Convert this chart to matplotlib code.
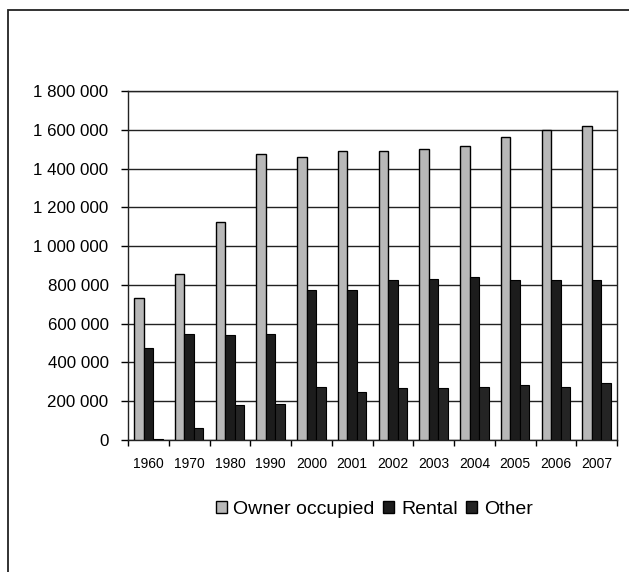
import matplotlib
matplotlib.use("Agg")
import matplotlib.pyplot as plt
import matplotlib.patches as mpatches
from matplotlib.ticker import FuncFormatter, FixedLocator
import numpy as np

plt.rcParams['font.family'] = ['Liberation Sans', 'DejaVu Sans']

years = ['1960', '1970', '1980', '1990', '2000', '2001', '2002', '2003',
         '2004', '2005', '2006', '2007']
owner = [731000, 857000, 1122000, 1473000, 1460000, 1489000, 1489000,
         1503000, 1516000, 1561000, 1597000, 1620000]
rental = [472000, 547000, 540000, 547000, 775000, 773000, 823000,
          830000, 843000, 823000, 823000, 823000]
other = [5000, 60000, 179000, 186000, 275000, 246000, 267000,
         267000, 275000, 286000, 275000, 293000]

fig = plt.figure(figsize=(6.29, 5.72), dpi=100)
ax = fig.add_axes([128/629, 132/572, 489/629, 349/572])

x = np.arange(len(years))
w = 0.235
ax.bar(x - w, owner, w, color='#b8b8b8', edgecolor='black', linewidth=1, zorder=3,
       label='Owner occupied')
ax.bar(x, rental, w, color='#1c1c1c', edgecolor='black', linewidth=0.8, zorder=3,
       label='Rental')
ax.bar(x + w, other, w, color='#242424', edgecolor='black', linewidth=0.8, zorder=3,
       label='Other')

ax.set_xlim(-0.5, len(years) - 0.5)
ax.set_ylim(0, 1800000)
ax.set_yticks(np.arange(0, 1800001, 200000))
ax.yaxis.set_major_formatter(FuncFormatter(lambda v, p: f'{int(v):,}'.replace(',', ' ')))
ax.yaxis.grid(True, color='#222222', linewidth=1, zorder=0)

ax.set_xticks(x)
ax.set_xticklabels(years)
ax.xaxis.set_minor_locator(FixedLocator(np.arange(-0.5, len(years), 1.0)))
ax.tick_params(axis='x', which='major', length=0, pad=12, labelsize=10)
ax.tick_params(axis='x', which='minor', length=4, width=1, direction='out')
ax.tick_params(axis='y', length=5, width=1, pad=9, labelsize=12.2)

for s in ax.spines.values():
    s.set_linewidth(1)
    s.set_color('#222222')

handles = [mpatches.Patch(facecolor='#b8b8b8', edgecolor='black'),
           mpatches.Patch(facecolor='#1c1c1c', edgecolor='black'),
           mpatches.Patch(facecolor='#242424', edgecolor='black')]
fig.legend(handles, ['Owner occupied', 'Rental', 'Other'], loc='center',
           bbox_to_anchor=(0.595, 0.11), ncol=3, frameon=False, fontsize=14,
           handlelength=0.55, handleheight=0.55, handletextpad=0.35, columnspacing=0.45)

frame = mpatches.Rectangle((8/629, -0.05), 1.1, 1 - 10/572 + 0.05, fill=False,
                           edgecolor='#222222', linewidth=1.3,
                           transform=fig.transFigure, clip_on=False)
fig.patches.append(frame)

fig.savefig('out.png', dpi=100)
